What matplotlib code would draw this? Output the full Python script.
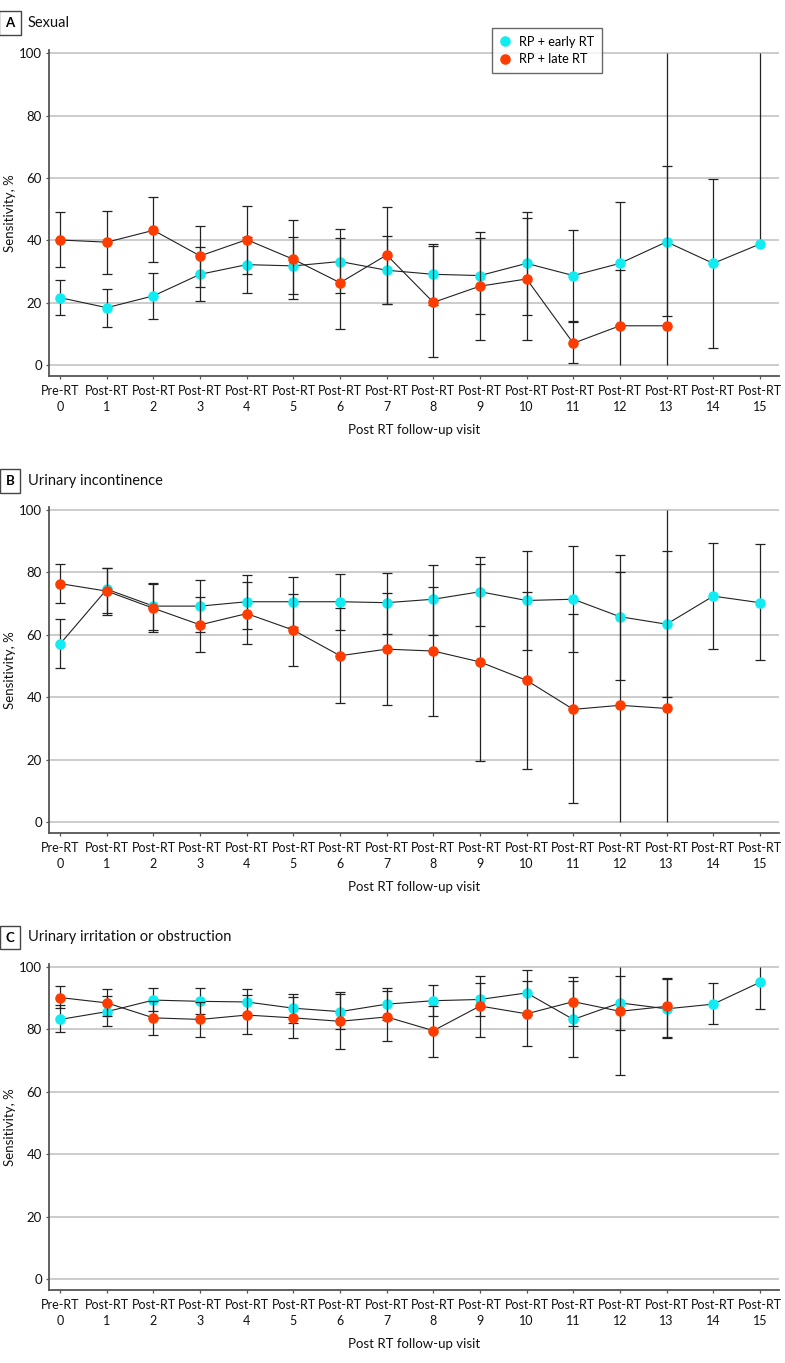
import numpy as np
import matplotlib
matplotlib.use("Agg")
import matplotlib.pyplot as plt
from matplotlib.lines import Line2D

plt.rcParams['font.family'] = ['Lato', 'DejaVu Sans']

nan = np.nan
visits = list(range(16))
tick_labels = ["Pre-RT\n0"] + [f"Post-RT\n{i}" for i in range(1, 16)]
series_names = ["RP + early RT", "RP + late RT"]
panel_letters = ["A", "B", "C"]
panel_titles = ["Sexual", "Urinary incontinence", "Urinary irritation or obstruction"]

# ---- Panel A: Sexual ----
a_early = [21.6, 18.4, 22.2, 29.1, 32.2, 31.8, 33.2, 30.4, 29.1, 28.7, 32.6, 28.7, 32.6, 39.5, 32.6, 38.8]
a_early_lo = [15.9, 12.1, 14.7, 20.7, 23.2, 22.7, 23.2, 19.7, 19.4, 16.5, 15.9, 14.1, 12.9, 15.7, 5.4, nan]
a_early_hi = [27.2, 24.5, 29.6, 37.7, 41.1, 41.0, 43.6, 41.4, 38.8, 40.6, 49.2, 43.4, 52.3, 63.7, 59.8, 100]
a_late = [40.1, 39.4, 43.2, 35.0, 40.2, 33.9, 26.4, 35.3, 20.1, 25.3, 27.6, 7.0, 12.6, 12.6]
a_late_lo = [31.3, 29.3, 32.9, 24.9, 29.1, 21.1, 11.6, 19.7, 2.7, 8.1, 8.0, 0.7, 0, 0]
a_late_hi = [49.2, 49.3, 53.9, 44.7, 51.1, 46.6, 40.8, 50.8, 38.2, 42.8, 47.1, 13.7, 30.4, 100]

# ---- Panel B: Urinary incontinence ----
b_early = [57.1, 74.6, 69.2, 69.2, 70.6, 70.6, 70.6, 70.3, 71.4, 73.8, 71.0, 71.4, 65.8, 63.4, 72.4, 70.3]
b_early_lo = [49.3, 67.1, 61.5, 61.0, 62.0, 62.4, 61.5, 60.4, 59.9, 62.9, 55.2, 54.6, 45.5, 40.1, 55.3, 51.8]
b_early_hi = [65.0, 81.5, 76.5, 77.5, 79.2, 78.6, 79.4, 79.8, 82.4, 85.0, 87.0, 88.4, 85.7, 87.0, 89.5, 89.0]
b_late = [76.4, 74.0, 68.5, 63.2, 66.8, 61.5, 53.3, 55.4, 54.8, 51.3, 45.4, 36.1, 37.4, 36.4]
b_late_lo = [70.3, 66.3, 60.8, 54.6, 57.2, 49.9, 38.0, 37.5, 34.0, 19.6, 17.0, 6.0, 0, 0]
b_late_hi = [82.8, 81.5, 76.3, 72.1, 76.8, 73.2, 68.6, 73.5, 75.3, 82.8, 73.6, 66.6, 80.2, 100]

# ---- Panel C: Urinary irritation or obstruction ----
c_early = [83.2, 85.7, 89.4, 89.0, 88.8, 86.8, 85.7, 88.1, 89.2, 89.6, 91.7, 83.2, 88.5, 86.6, 88.1, 95.1]
c_early_lo = [79.1, 81.0, 85.9, 84.9, 84.5, 82.2, 80.0, 83.1, 84.2, 84.2, 84.5, 71.0, 79.7, 77.1, 81.6, 86.4]
c_early_hi = [87.7, 90.6, 93.4, 93.2, 93.1, 91.5, 91.9, 93.4, 94.3, 94.8, 98.9, 95.5, 97.2, 96.2, 94.8, 100]
c_late = [90.2, 88.5, 83.7, 83.2, 84.6, 83.7, 82.6, 84.0, 79.6, 87.5, 85.0, 88.9, 85.8, 87.4]
c_late_lo = [86.8, 84.3, 78.2, 77.6, 78.4, 77.2, 73.6, 76.2, 71.2, 77.5, 74.7, 81.2, 65.3, 77.5]
c_late_hi = [93.8, 92.8, 89.2, 88.8, 90.9, 90.3, 91.3, 92.2, 87.6, 97.2, 95.5, 96.7, 100, 96.5]

panels = [
    (a_early, a_early_lo, a_early_hi, a_late, a_late_lo, a_late_hi),
    (b_early, b_early_lo, b_early_hi, b_late, b_late_lo, b_late_hi),
    (c_early, c_early_lo, c_early_hi, c_late, c_late_lo, c_late_hi),
]

CYAN = "#10ecf2"
ORANGE = "#ff3c00"
SPINE = "#555555"
GRID = "#c4c4c4"

W, H = 785, 1363
fig = plt.figure(figsize=(W / 100, H / 100), dpi=100)

# axes pixel boxes: (top px, bottom px)
ax_boxes = [(50.0, 375.7), (506.9, 832.6), (963.9, 1289.6)]
label_y = [23, 481, 937.5]
left_px, right_px = 49, 779


def draw_series(ax, vals, lo, hi, color, z):
    x = np.arange(len(vals))
    v = np.array(vals, float)
    lo = np.array(lo, float)
    hi = np.array(hi, float)
    lo_eff = np.where(np.isnan(lo), v, lo)
    hi_eff = np.where(np.isnan(hi), v, hi)
    ax.vlines(x, lo_eff, hi_eff, color="#222222", lw=0.9, zorder=z)
    for arr in (lo, hi):
        m = (~np.isnan(arr)) & (arr > 0) & (arr < 100)
        ax.plot(x[m], arr[m], linestyle="none", marker="_", markersize=7.5,
                markeredgewidth=0.9, color="#222222", zorder=z)
    ax.plot(x, v, color="#222222", lw=0.8, zorder=z + 0.5)
    ax.plot(x, v, linestyle="none", marker="o", markersize=6.6,
            markerfacecolor=color, markeredgecolor=color, zorder=z + 1)


for i, (box, data) in enumerate(zip(ax_boxes, panels)):
    top, bot = box
    ax = fig.add_axes([left_px / W, 1 - bot / H, (right_px - left_px) / W, (bot - top) / H])
    e, elo, ehi, l, llo, lhi = data
    draw_series(ax, e, elo, ehi, CYAN, 3)
    draw_series(ax, l, llo, lhi, ORANGE, 5)
    ax.set_xlim(-0.24, 15.41)
    ax.set_ylim(-3.4, 101)
    ax.set_yticks([0, 20, 40, 60, 80, 100])
    ax.set_xticks(visits)
    ax.set_xticklabels(tick_labels, linespacing=1.4)
    ax.yaxis.grid(True, color=GRID, lw=1.2, zorder=0)
    ax.set_axisbelow(True)
    for s in ("top", "right"):
        ax.spines[s].set_visible(False)
    for s in ("left", "bottom"):
        ax.spines[s].set_color(SPINE)
        ax.spines[s].set_linewidth(1.3)
    ax.tick_params(axis="both", colors=SPINE, length=2.5, width=0.9, labelsize=9,
                   labelcolor="#111111")
    ax.tick_params(axis="x", pad=4)
    ax.tick_params(axis="y", pad=2.5, labelsize=9.5)
    ax.set_ylabel("Sensitivity, %", fontsize=9.5, color="#111111", labelpad=2.5)
    ax.set_xlabel("Post RT follow-up visit", fontsize=9.5, color="#111111", labelpad=8)

    fig.text(10 / W, 1 - label_y[i] / H, panel_letters[i], fontsize=9.5, fontweight="bold",
             ha="center", va="center",
             bbox=dict(boxstyle="square,pad=0.45", fc="white", ec="#444444", lw=1.0))
    fig.text(28 / W, 1 - label_y[i] / H, panel_titles[i], fontsize=10.5, ha="left",
             va="center", color="#111111")

handles = [Line2D([], [], linestyle="none", marker="o", markersize=6.6,
                  markerfacecolor=c, markeredgecolor=c) for c in (CYAN, ORANGE)]
leg = fig.legend(handles, series_names, loc="upper left",
                 bbox_to_anchor=(492 / W, 1 - 28 / H), fontsize=9.2, frameon=True,
                 fancybox=False, edgecolor="#444444", handlelength=0.8,
                 handletextpad=0.7, borderpad=0.6, labelspacing=0.45,
                 borderaxespad=0)
leg.get_frame().set_linewidth(1.0)

fig.savefig("out.png", dpi=100)
